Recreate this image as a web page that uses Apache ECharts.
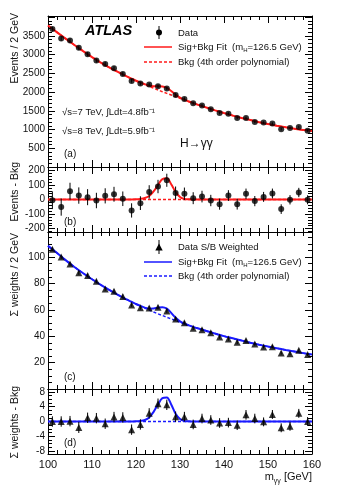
<!DOCTYPE html>
<html><head><meta charset="utf-8">
<script src="https://cdn.jsdelivr.net/npm/echarts@6/dist/echarts.min.js"></script>
<style>html,body{margin:0;padding:0;background:#fff}#c{width:340px;height:495px}</style>
</head><body><div id="c"></div>
<script>
// ---- data ----
const massX = [101,103,105,107,109,111,113,115,117,119,121,123,125,127,129,131,133,135,137,139,141,143,145,147,149,151,153,155,157,159];
const dataA = [3680,3428,3375,3180,3010,2840,2752,2637,2485,2298,2226,2199,2155,2092,1924,1817,1701,1644,1541,1443,1424,1309,1309,1203,1185,1158,1007,1043,1069,970];
const errA  = [61,59,58,56,55,53,52,51,50,49,47,46,46,45,44,43,41,40,39,38,37,37,36,35,34,34,33,32,32,31];
const residB = [-5,-52,57,27,16,-7,25,36,5,-75,-25,52,89,132,45,39,9,20,-7,-32,27,-32,39,-11,18,41,-66,-2,48,-2];
const dataC = [106,100,94.7,88.1,86.1,81.6,75.8,74,70.2,63.7,61.6,61.4,61.9,59.1,53.1,50.3,46,45,42.7,39.4,37.9,35.4,36.7,34.1,31.9,32.1,27.3,26.8,29.3,26.1];
const residD = [0,0,0.1,-1.6,1.0,0.9,-0.6,1.2,1.1,-2.2,-0.8,2.2,4.8,4.5,1.3,1.3,-0.8,0.8,0.4,-0.4,-0.3,-1.0,1.8,0.8,-0.1,1.9,-1.7,-1.3,2.2,0];
const errD  = [1.4,1.4,1.4,1.5,1.4,1.4,1.4,1.4,1.4,1.4,1.4,1.4,1.4,1.4,1.4,1.3,1.3,1.3,1.3,1.3,1.3,1.3,1.3,1.3,1.2,1.2,1.2,1.2,1.2,1.2];
const fitX = [100,102,104,106,108,110,112,114,116,118,119,120,121,122,123,124,125,126,127,128,129,130,131,132,133,134,136,138,140,142,144,146,148,150,152,154,156,158,160];
const bkgA = [3775,3600,3425,3257,3092,2932,2785,2652,2530,2412,2355,2302,2250,2200,2150,2102,2055,2010,1965,1922,1880,1835,1790,1747,1705,1665,1587,1512,1440,1372,1310,1252,1197,1147,1102,1060,1022,990,960];
const bkgC = [108.5,103.2,97.7,92.5,87.7,83.2,79,75,71.2,67.7,66,64.4,62.8,61.3,59.8,58.4,57,55.7,54.4,53.1,51.9,50.6,49.4,48.2,47.1,46,44,42,40.1,38.4,36.7,35.1,33.6,32.2,30.9,29.6,28.4,27.2,26.1];
const sigX = [118,119,120,121,122,123,124,125,126,127,128,129,130,131,132,133,134];
const sigA = [0,0,1,4,10,24,55,100,140,145,105,52,17,4,1,0,0];
const sigC = [0,0,0.05,0.15,0.4,1.1,2.6,4.6,6.3,6.5,4.6,2.1,0.7,0.15,0.05,0,0];
// tick labels
const xTicks = [100,110,120,130,140,150,160];
const yTicksB = [-200,-100,0,100,200];
const yMinorB = [-220,-180,-160,-140,-120,-80,-60,-40,-20,20,40,60,80,120,140,160,180,220];
const yTicksD = [-8,-4,0,4,8];
const yMinorD = [-7,-6,-5,-3,-2,-1,1,2,3,5,6,7];

const FONT = '"Liberation Sans", Arial, sans-serif';
const RED = '#ff1a1a', BLUE = '#1a1aff';

function sigAt(arr, x){ const i = sigX.indexOf(x); return i >= 0 ? arr[i] : 0; }
const lineBkgA = fitX.map((x,i)=>[x,bkgA[i]]);
const lineSBA  = fitX.map((x,i)=>[x,bkgA[i]+sigAt(sigA,x)]);
const lineSigB = fitX.map(x=>[x,sigAt(sigA,x)]);
const lineZero = fitX.map(x=>[x,0]);
const lineBkgC = fitX.map((x,i)=>[x,bkgC[i]]);
const lineSBC  = fitX.map((x,i)=>[x,bkgC[i]+sigAt(sigC,x)]);
const lineSigD = fitX.map(x=>[x,sigAt(sigC,x)]);

const TICK = {show:true, inside:true, length:7, lineStyle:{color:'#000'}};
function xAx(g, pos, showLabel){
  return {type:'value', gridIndex:g, position:pos, min:xTicks[0], max:xTicks[xTicks.length-1], interval:xTicks[1]-xTicks[0],
    axisLine:{show:true, onZero:false, lineStyle:{color:'#000', width:1}},
    axisTick:TICK,
    minorTick:{show:true, splitNumber:5, length:4, lineStyle:{color:'#000'}},
    axisLabel:{show:showLabel, fontSize:11, color:'#111', margin:5, fontFamily:FONT},
    splitLine:{show:false}, minorSplitLine:{show:false}};
}
function yAx(g, pos, min, max, interval, minorSplit, fmt, showLabel){
  return {type:'value', gridIndex:g, position:pos, min:min, max:max, interval:interval,
    axisLine:{show:true, onZero:false, lineStyle:{color:'#000', width:1}},
    axisTick:TICK,
    minorTick:{show:true, splitNumber:minorSplit, length:4, lineStyle:{color:'#000'}},
    axisLabel:{show:showLabel, fontSize:10, color:'#111', margin:3, fontFamily:FONT, formatter:fmt},
    splitLine:{show:false}, minorSplitLine:{show:false}};
}
// axis with explicit tick values (symmetric ranges)
function yAxC(g, pos, min, max, ticks, showLabel){
  return {type:'value', gridIndex:g, position:pos, min:min, max:max,
    axisLine:{show:true, onZero:false, lineStyle:{color:'#000', width:1}},
    axisTick:Object.assign({customValues:ticks}, TICK),
    minorTick:{show:false},
    axisLabel:{show:showLabel, customValues:ticks, fontSize:10, color:'#111', margin:3, fontFamily:FONT},
    splitLine:{show:false}, minorSplitLine:{show:false}};
}
function yAxMinor(g, pos, min, max, ticks){
  return {type:'value', gridIndex:g, position:pos, min:min, max:max,
    axisLine:{show:false, onZero:false},
    axisTick:{show:true, inside:true, length:4, customValues:ticks, lineStyle:{color:'#000'}},
    minorTick:{show:false},
    axisLabel:{show:false},
    splitLine:{show:false}, minorSplitLine:{show:false}};
}
function errSeries(xi, xs, ys, es){
  return {type:'custom', xAxisIndex:xi, yAxisIndex:xi, silent:true, z:5,
    data: xs.map((x,i)=>[x, ys[i], es[i]]),
    renderItem:(p, api)=>{
      const x=api.value(0), y=api.value(1), e=api.value(2);
      const a=api.coord([x,y-e]), b=api.coord([x,y+e]);
      return {type:'line', shape:{x1:a[0],y1:a[1],x2:b[0],y2:b[1]}, style:{stroke:'#000', lineWidth:1}};
    }};
}
function pts(xi, xs, ys, sym, size){
  return {type:'scatter', xAxisIndex:xi, yAxisIndex:xi, symbol:sym, symbolSize:size, z:6,
    itemStyle:{color:'#000'}, data: xs.map((x,i)=>[x, ys[i]])};
}
function ln(xi, data, color, dashed, w, z){
  return {type:'line', xAxisIndex:xi, yAxisIndex:xi, data:data, smooth:0.35, showSymbol:false, symbol:'none', z:z,
    lineStyle:{color:color, width:w, type: dashed ? [3,2] : 'solid'}};
}
function txt(x, y, text, size, opts){
  return {type:'text', x:x, y:y, silent:true, z:100,
    style:Object.assign({text:text, fontSize:size, fontFamily:FONT, fill:'#111', textVerticalAlign:'middle'}, opts||{})};
}
function vtxt(x, y, text){
  return {type:'text', x:x, y:y, rotation:Math.PI/2, silent:true, z:100,
    style:{text:text, fontSize:10.5, fontFamily:FONT, fill:'#111', textAlign:'right', textVerticalAlign:'middle'}};
}
const richSub = {
  n:{fontSize:9.5, fontFamily:FONT, fill:'#111', lineHeight:13},
  s:{fontSize:6, fontFamily:FONT, fill:'#111', lineHeight:6, verticalAlign:'bottom'}
};

const graphic = [
  // Panel (a) legend
  {type:'line', shape:{x1:159,y1:26,x2:159,y2:39}, style:{stroke:'#000', lineWidth:1}, z:100},
  {type:'circle', shape:{cx:159, cy:32.5, r:3}, style:{fill:'#000'}, z:100},
  txt(178, 33, 'Data', 9.5),
  {type:'line', shape:{x1:144,y1:47,x2:172,y2:47}, style:{stroke:RED, lineWidth:1.5}, z:100},
  {type:'text', x:178, y:47, z:100, style:{text:'{n|Sig+Bkg Fit  (m}{s|H}{n|=126.5 GeV)}', rich:richSub, textVerticalAlign:'middle'}},
  {type:'line', shape:{x1:144,y1:62,x2:172,y2:62}, style:{stroke:RED, lineWidth:1.5, lineDash:[3,2]}, z:100},
  txt(178, 62, 'Bkg (4th order polynomial)', 9.5),
  txt(85, 31, 'ATLAS', 14.5, {fontWeight:'bold', fontStyle:'italic', fill:'#000'}),
  txt(62, 112, '\u221As=7 TeV, \u222BLdt=4.8fb\u207B\u00B9', 9.5),
  txt(62, 131, '\u221As=8 TeV, \u222BLdt=5.9fb\u207B\u00B9', 9.5),
  txt(180, 144, 'H\u2192\u03B3\u03B3', 12),
  txt(64, 154, '(a)', 10),
  txt(64, 222, '(b)', 10),
  txt(64, 377, '(c)', 10),
  txt(64, 443, '(d)', 10),
  // Panel (c) legend
  {type:'line', shape:{x1:159,y1:240,x2:159,y2:254}, style:{stroke:'#000', lineWidth:1}, z:100},
  {type:'polygon', shape:{points:[[159,243.5],[155.3,250.5],[162.7,250.5]]}, style:{fill:'#000'}, z:100},
  txt(178, 247, 'Data S/B Weighted', 9.5),
  {type:'line', shape:{x1:144,y1:262,x2:172,y2:262}, style:{stroke:BLUE, lineWidth:1.5}, z:100},
  {type:'text', x:178, y:262, z:100, style:{text:'{n|Sig+Bkg Fit  (m}{s|H}{n|=126.5 GeV)}', rich:richSub, textVerticalAlign:'middle'}},
  {type:'line', shape:{x1:144,y1:276,x2:172,y2:276}, style:{stroke:BLUE, lineWidth:1.5, lineDash:[3,2]}, z:100},
  txt(178, 276, 'Bkg (4th order polynomial)', 9.5),
  // Axis titles
  vtxt(15, 13, 'Events / 2 GeV'),
  vtxt(15, 162, 'Events - Bkg'),
  vtxt(15, 233, '\u03A3 weights / 2 GeV'),
  vtxt(15, 386, '\u03A3 weights - Bkg'),
  {type:'text', x:312, y:477, z:100, style:{text:'{n|m}{s|\u03B3\u03B3}{n| [GeV]}', textAlign:'right', textVerticalAlign:'middle',
    rich:{n:{fontSize:11, fontFamily:FONT, fill:'#111', lineHeight:15}, s:{fontSize:7, fontFamily:FONT, fill:'#111', lineHeight:7, verticalAlign:'bottom'}}}}
];

const option = {
  animation:false,
  backgroundColor:'#fff',
  grid:[
    {left:48, top:16, width:264, height:151},
    {left:48, top:167, width:264, height:65},
    {left:48, top:232, width:264, height:157},
    {left:48, top:389, width:264, height:65}
  ],
  xAxis:[
    xAx(0,'bottom',false), xAx(1,'bottom',false), xAx(2,'bottom',false), xAx(3,'bottom',true),
    xAx(0,'top',false), xAx(1,'top',false), xAx(2,'top',false), xAx(3,'top',false)
  ],
  yAxis:[
    yAx(0,'left',0,4030,500,5,v=>(v>=500&&v<=3500)?String(v):'',true),
    yAxC(1,'left',-223,223,yTicksB,true),
    yAx(2,'left',0,119,20,4,v=>(v>=20&&v<=100)?String(v):'',true),
    yAxC(3,'left',-8.77,8.77,yTicksD,true),
    yAx(0,'right',0,4030,500,5,null,false),
    yAxC(1,'right',-223,223,yTicksB,false),
    yAx(2,'right',0,119,20,4,null,false),
    yAxC(3,'right',-8.77,8.77,yTicksD,false),
    yAxMinor(1,'left',-223,223,yMinorB),
    yAxMinor(1,'right',-223,223,yMinorB),
    yAxMinor(3,'left',-8.77,8.77,yMinorD),
    yAxMinor(3,'right',-8.77,8.77,yMinorD)
  ],
  series:[
    ln(0, lineBkgA, RED, true, 1.5, 2),
    ln(0, lineSBA, RED, false, 2, 3),
    errSeries(0, massX, dataA, errA),
    pts(0, massX, dataA, 'circle', 6),
    ln(1, lineZero, RED, true, 1.5, 2),
    ln(1, lineSigB, RED, false, 2, 3),
    errSeries(1, massX, residB, errA),
    pts(1, massX, residB, 'circle', 6),
    ln(2, lineBkgC, BLUE, true, 1.5, 2),
    ln(2, lineSBC, BLUE, false, 2, 3),
    errSeries(2, massX, dataC, errD),
    pts(2, massX, dataC, 'triangle', 7),
    ln(3, lineZero, BLUE, true, 1.5, 2),
    ln(3, lineSigD, BLUE, false, 2, 3),
    errSeries(3, massX, residD, errD),
    pts(3, massX, residD, 'triangle', 7)
  ],
  graphic:{elements:graphic}
};
const chart = echarts.init(document.getElementById('c'), null, {renderer:'canvas'});
chart.setOption(option);
</script>
</body></html>
